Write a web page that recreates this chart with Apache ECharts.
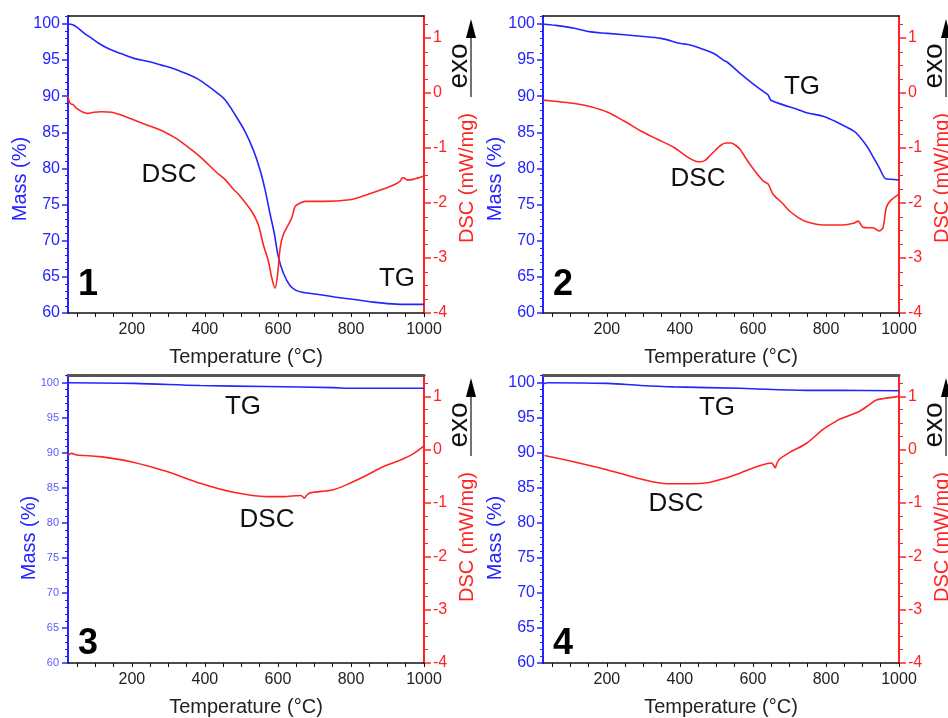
<!DOCTYPE html>
<html><head><meta charset="utf-8">
<script src="https://cdn.jsdelivr.net/npm/echarts@6/dist/echarts.min.js"></script>
<style>html,body{margin:0;padding:0;background:#fff}#c{width:948px;height:718px}</style>
</head><body><div id="c"></div>
<script>
// ---- axis tick / label values ----
const xLabelValues = [200, 400, 600, 800, 1000];
const xTickValues = [50,100,150,200,250,300,350,400,450,500,550,600,650,700,750,800,850,900,950,1000];
const massLabelValues = [60, 65, 70, 75, 80, 85, 90, 95, 100];
const dscLabelValues = [-4, -3, -2, -1, 0, 1];

// ---- sample 1 ----
const tg1 = [[25,100.0],[38,99.9],[53,99.4],[70,98.7],[90,98.0],[110,97.3],[135,96.6],[170,95.9],[208,95.2],[245,94.8],[281,94.3],[315,93.8],[345,93.2],[380,92.4],[409,91.4],[435,90.4],[455,89.5],[483,87.4],[510,85.1],[533,82.5],[551,79.8],[565,77.0],[578,73.8],[590,71.0],[601,67.8],[615,65.5],[633,63.8],[651,63.1],[674,62.8],[720,62.5],[770,62.1],[820,61.8],[861,61.5],[900,61.3],[943,61.2],[1000,61.2]];
const dsc1 = [[25,-0.05],[28,-0.15],[33,-0.2],[39,-0.21],[47,-0.27],[58,-0.32],[70,-0.36],[80,-0.37],[95,-0.35],[117,-0.34],[144,-0.35],[170,-0.4],[190,-0.45],[236,-0.57],[281,-0.68],[320,-0.82],[341,-0.92],[387,-1.16],[433,-1.45],[455,-1.57],[478,-1.75],[492,-1.84],[528,-2.15],[546,-2.39],[560,-2.76],[574,-3.06],[583,-3.36],[592,-3.55],[600,-3.24],[606,-2.82],[615,-2.57],[629,-2.39],[638,-2.27],[647,-2.06],[661,-2.0],[674,-1.97],[724,-1.97],[797,-1.94],[830,-1.88],[861,-1.81],[900,-1.72],[921,-1.66],[935,-1.6],[941,-1.54],[947,-1.55],[953,-1.58],[970,-1.57],[1000,-1.51]];

// ---- sample 2 ----
const tg2 = [[25,100.0],[60,99.8],[111,99.4],[156,98.9],[202,98.7],[293,98.3],[348,98.0],[402,97.3],[428,97.1],[457,96.6],[493,95.9],[519,95.0],[530,94.7],[564,93.2],[603,91.6],[630,90.6],[641,90.2],[646,89.7],[650,89.4],[683,88.8],[721,88.2],[747,87.7],[794,87.2],[838,86.2],[865,85.5],[883,84.9],[913,83.0],[929,81.6],[945,80.2],[963,78.6],[976,78.5],[1000,78.4]];
const dsc2 = [[25,-0.13],[70,-0.16],[111,-0.19],[156,-0.25],[202,-0.35],[247,-0.51],[293,-0.69],[338,-0.84],[384,-0.99],[420,-1.16],[443,-1.24],[457,-1.25],[470,-1.22],[482,-1.14],[497,-1.04],[510,-0.96],[525,-0.91],[540,-0.91],[552,-0.95],[564,-1.02],[592,-1.30],[628,-1.60],[642,-1.66],[655,-1.84],[680,-2.0],[701,-2.15],[725,-2.27],[747,-2.34],[792,-2.40],[847,-2.40],[875,-2.37],[888,-2.33],[901,-2.44],[915,-2.45],[929,-2.45],[945,-2.51],[956,-2.45],[965,-2.09],[975,-1.97],[1000,-1.84]];

// ---- sample 3 ----
const tg3 = [[25,100.0],[205,99.9],[387,99.6],[569,99.45],[752,99.3],[797,99.2],[1000,99.2]];
const dsc3 = [[25,-0.1],[35,-0.07],[49,-0.1],[113,-0.13],[200,-0.23],[296,-0.41],[387,-0.63],[478,-0.80],[569,-0.88],[615,-0.88],[661,-0.86],[668,-0.88],[672,-0.91],[678,-0.86],[688,-0.81],[752,-0.75],[797,-0.63],[843,-0.48],[888,-0.32],[934,-0.2],[970,-0.08],[1000,0.07]];

// ---- sample 4 ----
const tg4 = [[25,99.85],[40,100.0],[202,99.9],[293,99.6],[384,99.4],[566,99.2],[749,98.9],[840,98.9],[1000,98.85]];
const dsc4 = [[29,-0.11],[111,-0.23],[202,-0.38],[293,-0.55],[366,-0.64],[430,-0.64],[475,-0.62],[521,-0.54],[564,-0.44],[610,-0.32],[651,-0.25],[657,-0.3],[661,-0.34],[666,-0.25],[674,-0.17],[701,-0.05],[747,0.12],[792,0.38],[829,0.54],[840,0.58],[892,0.72],[920,0.85],[938,0.93],[958,0.96],[1000,1.0]];

const panelTG = [tg1, tg2, tg3, tg4];
const panelDSC = [dsc1, dsc2, dsc3, dsc4];
const panelNumbers = ['1', '2', '3', '4'];

const BLUE = '#2424ff', RED = '#ff2424', FONT = 'Liberation Sans, Arial, sans-serif';
const boxes = [{l:68,t:16},{l:543,t:16},{l:68,t:375},{l:543,t:375}];
const W = 356, H = 297;
const plain = v => String(v);

const grid = [], xAxis = [], yAxis = [], series = [], graphic = [];
boxes.forEach((b, i) => {
  grid.push({left: b.l, top: b.t, width: W, height: H, containLabel: false});
  xAxis.push({
    type: 'value', gridIndex: i, min: 25, max: 1000, position: 'bottom',
    axisLine: {onZero: false, lineStyle: {color: '#111', width: 1.5}},
    axisTick: {customValues: xTickValues, length: 4, lineStyle: {color: '#111'}},
    axisLabel: {customValues: xLabelValues, formatter: plain, fontSize: 16, color: '#222', margin: 9, fontFamily: FONT},
    splitLine: {show: false},
    name: 'Temperature (°C)', nameLocation: 'middle', nameGap: 34,
    nameTextStyle: {fontSize: 20, color: '#222', fontFamily: FONT}
  });
  xAxis.push({
    type: 'value', gridIndex: i, min: 25, max: 1000, position: 'top',
    axisLine: {onZero: false, lineStyle: {color: i < 2 ? '#111' : '#555', width: i < 2 ? 1.5 : 3}},
    axisTick: {show: false}, axisLabel: {show: false}, splitLine: {show: false}
  });
  const small = (i === 2);
  yAxis.push({
    type: 'value', gridIndex: i, min: 60, max: 101.1, interval: 5, position: 'left',
    axisLine: {onZero: false, lineStyle: {color: BLUE, width: 2}},
    axisTick: {customValues: massLabelValues, length: 6, lineStyle: {color: BLUE, width: 1.5}},
    minorTick: {show: true, splitNumber: 5, length: 3, lineStyle: {color: BLUE}},
    axisLabel: {customValues: massLabelValues, formatter: plain, fontSize: small ? 11 : 16, color: small ? '#5a5aff' : BLUE, margin: small ? 9 : 8, fontFamily: FONT},
    splitLine: {show: false}
  });
  yAxis.push({
    type: 'value', gridIndex: i, min: -4, max: 1.4, interval: 1, position: 'right',
    axisLine: {onZero: false, lineStyle: {color: RED, width: 2}},
    axisTick: {customValues: dscLabelValues, length: 7, lineStyle: {color: RED, width: 1.5}},
    minorTick: {show: true, splitNumber: 4, length: 4, lineStyle: {color: RED}},
    axisLabel: {customValues: dscLabelValues, formatter: plain, fontSize: 16, color: RED, margin: 9, fontFamily: FONT},
    splitLine: {show: false}
  });
  series.push({
    type: 'line', name: 'TG' + (i + 1), xAxisIndex: 2 * i, yAxisIndex: 2 * i,
    data: panelTG[i], showSymbol: false, smooth: 0.35,
    lineStyle: {color: BLUE, width: 1.6}, itemStyle: {color: BLUE}, silent: true
  });
  series.push({
    type: 'line', name: 'DSC' + (i + 1), xAxisIndex: 2 * i, yAxisIndex: 2 * i + 1,
    data: panelDSC[i], showSymbol: false, smooth: 0.3,
    lineStyle: {color: RED, width: 1.6}, itemStyle: {color: RED}, silent: true
  });

  // axis titles & decorations (positioned relative to the panel box)
  const ox = b.l - 68, oy = b.t - 16;
  const txt = (x, y, text, size, color, rot, weight) => ({
    type: 'text', x: x, y: y, rotation: rot || 0, silent: true,
    style: {text: text, fill: color, font: (weight || 'normal') + ' ' + size + 'px ' + FONT,
      textAlign: 'center', textVerticalAlign: 'middle', align: 'center', verticalAlign: 'middle'}
  });
  graphic.push(txt(ox + (small ? 29 : 20), oy + 179, 'Mass (%)', 20, BLUE, Math.PI / 2));
  graphic.push(txt(ox + 467, oy + 178, 'DSC (mW/mg)', 20, RED, Math.PI / 2));
  graphic.push(txt(ox + 459, oy + 66, 'exo', 28, '#111', Math.PI / 2));
  graphic.push({type: 'line', silent: true, shape: {x1: ox + 471, y1: oy + 97, x2: ox + 471, y2: oy + 34},
    style: {stroke: '#444', lineWidth: 1.5}});
  graphic.push({type: 'polygon', silent: true,
    shape: {points: [[ox + 471, oy + 19], [ox + 466, oy + 38], [ox + 476, oy + 38]]},
    style: {fill: '#000'}});
  graphic.push(txt(ox + 88, oy + 285, panelNumbers[i], 36, '#000', 0, 'bold'));
});

// curve annotations
const ann = (x, y, t) => ({type: 'text', x: x, y: y, silent: true,
  style: {text: t, fill: '#111', font: 'normal 26px ' + FONT, textAlign: 'center', textVerticalAlign: 'middle', align: 'center', verticalAlign: 'middle'}});
graphic.push(ann(169, 175, 'DSC'), ann(397, 279, 'TG'));
graphic.push(ann(802, 87, 'TG'), ann(698, 179, 'DSC'));
graphic.push(ann(243, 407, 'TG'), ann(267, 520, 'DSC'));
graphic.push(ann(717, 408, 'TG'), ann(676, 504, 'DSC'));

const chart = echarts.init(document.getElementById('c'), null, {renderer: 'canvas'});
chart.setOption({
  animation: false,
  backgroundColor: '#fff',
  textStyle: {fontFamily: FONT},
  grid, xAxis, yAxis, series, graphic
});
</script></body></html>
